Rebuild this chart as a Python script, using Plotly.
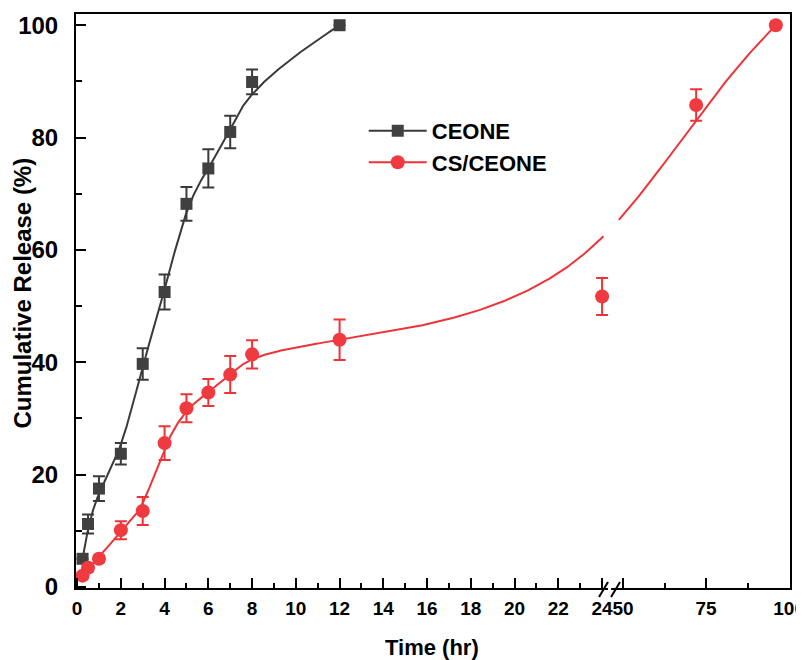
import numpy as np
import plotly.graph_objects as go

# ---------------- data ----------------
t_ceone = [0.25, 0.5, 1, 2, 3, 4, 5, 6, 7, 8, 12]
ceone = [5.0, 11.2, 17.5, 23.7, 39.7, 52.5, 68.2, 74.5, 81.0, 89.9, 100.0]
ceone_err = [0.0, 1.7, 2.2, 1.9, 2.8, 3.1, 3.0, 3.4, 2.9, 2.2, 0.0]

t_cs = [0.25, 0.5, 1, 2, 3, 4, 5, 6, 7, 8, 12, 24, 72, 96]
cs = [2.0, 3.4, 5.0, 10.1, 13.5, 25.6, 31.8, 34.6, 37.8, 41.4, 44.0, 51.7, 85.8, 100.0]
cs_err = [0.5, 0.6, 0.6, 1.6, 2.5, 3.0, 2.5, 2.4, 3.3, 2.5, 3.6, 3.3, 2.8, 0.0]

left_ticks = list(range(0, 25, 2))
left_minor = list(range(1, 24, 2))
right_ticks = [50, 75, 100]
right_minor = [62.5, 87.5]
y_ticks = [0, 20, 40, 60, 80, 100]
y_minor = [10, 30, 50, 70, 90]

# ---------------- broken axis mapping ----------------
BREAK_START = 50.0     # first value after the break
GAP = 0.96             # display units between 24 and 50
RIGHT_SCALE = 0.1518   # display units per hour after the break


def u(t):
    t = np.asarray(t, dtype=float)
    return np.where(t <= 24, t, 24 + GAP + (t - BREAK_START) * RIGHT_SCALE)


def bspline(xs, ys, num=1200):
    """Uniform clamped cubic B-spline with the data points as control points."""
    P = np.column_stack([xs, ys])
    m, k = len(P), 3
    knots = np.concatenate([np.zeros(k), np.arange(0, m - k + 1), np.full(k, m - k)]).astype(float)
    s = np.linspace(0, m - k, num)
    nb = len(knots) - 1
    N = np.zeros((num, nb))
    for i in range(nb):
        N[:, i] = (knots[i] <= s) & (s < knots[i + 1])
    N[-1, m - 1] = 1.0
    for p in range(1, k + 1):
        Nn = np.zeros((num, nb - p))
        for i in range(nb - p):
            d1 = knots[i + p] - knots[i]
            d2 = knots[i + p + 1] - knots[i + 1]
            a = (s - knots[i]) / d1 * N[:, i] if d1 > 0 else 0
            b = (knots[i + p + 1] - s) / d2 * N[:, i + 1] if d2 > 0 else 0
            Nn[:, i] = a + b
        N = Nn
    C = N @ P
    return C[:, 0], C[:, 1]


BLACK = "#3a3a3a"
RED = "#ee3338"
FONT = "Liberation Sans"

ux_c, uy_c = bspline(u(t_ceone), ceone)
ux_s, uy_s = bspline(u(t_cs), cs)
MASK_LO, MASK_HI = 24.12, 24.72
uy_s_masked = [None if MASK_LO < x < MASK_HI else y for x, y in zip(ux_s, uy_s)]

fig = go.Figure()
fig.add_trace(go.Scatter(x=ux_c, y=uy_c, mode="lines", line=dict(color=BLACK, width=2),
                         showlegend=False, hoverinfo="skip"))
fig.add_trace(go.Scatter(x=ux_s, y=uy_s_masked, mode="lines", line=dict(color=RED, width=2),
                         showlegend=False, hoverinfo="skip", connectgaps=False))
fig.add_trace(go.Scatter(x=u(t_ceone), y=ceone, mode="markers", showlegend=False,
                         marker=dict(symbol="square", size=12, color="#404040"),
                         error_y=dict(type="data", array=ceone_err, color=BLACK, thickness=2, width=6)))
fig.add_trace(go.Scatter(x=u(t_cs), y=cs, mode="markers", showlegend=False,
                         marker=dict(symbol="circle", size=14, color="#ef3b3f"),
                         error_y=dict(type="data", array=cs_err, color=RED, thickness=2, width=6)))
# legend entries
fig.add_trace(go.Scatter(x=[None], y=[None], mode="lines+markers", name="CEONE",
                         line=dict(color=BLACK, width=2),
                         marker=dict(symbol="square", size=12, color="#404040")))
fig.add_trace(go.Scatter(x=[None], y=[None], mode="lines+markers", name="CS/CEONE",
                         line=dict(color=RED, width=2),
                         marker=dict(symbol="circle", size=14, color="#ef3b3f")))

tickvals = list(u(left_ticks)) + list(u(right_ticks))
ticktext = [str(v) for v in left_ticks] + [str(v) for v in right_ticks]
minorvals = list(u(left_minor)) + list(u(right_minor))

# page body has an 8px margin: plot area spans x 76..790, y 14..588 in the window
fig.update_layout(
    width=796, height=652,
    margin=dict(l=68, r=14, t=6, b=72),
    paper_bgcolor="white", plot_bgcolor="white",
    font=dict(family=FONT, color="black", weight="bold"),
    legend=dict(x=0.403, y=0.833, xanchor="left", yanchor="top",
                font=dict(family=FONT, size=22, color="black", weight="bold"),
                bgcolor="rgba(0,0,0,0)", itemwidth=58, tracegroupgap=0),
    xaxis=dict(range=[-0.05, 32.59], showgrid=False, zeroline=False, automargin=False,
               showline=True, linecolor="black", linewidth=2, mirror=True,
               tickmode="array", tickvals=tickvals, ticktext=ticktext, tickangle=0,
               ticks="inside", ticklen=10, tickwidth=2, tickcolor="black",
               tickfont=dict(family=FONT, size=19, color="black", weight="bold"),
               ticklabelstandoff=2, ticklabeloverflow="allow",
               minor=dict(tickmode="array", tickvals=minorvals, ticks="inside",
                          ticklen=5, tickwidth=2, tickcolor="black")),
    yaxis=dict(range=[-0.2, 102], showgrid=False, zeroline=False, automargin=False,
               showline=True, linecolor="black", linewidth=2, mirror=True,
               tickmode="array", tickvals=y_ticks,
               ticks="inside", ticklen=10, tickwidth=2, tickcolor="black",
               tickfont=dict(family=FONT, size=24, color="black", weight="bold"),
               ticklabelstandoff=11,
               minor=dict(tickmode="array", tickvals=y_minor, ticks="inside",
                          ticklen=6, tickwidth=2, tickcolor="black")),
    annotations=[
        dict(text="Time (hr)", xref="paper", yref="paper", x=0.4986, y=-0.1028,
             xanchor="center", yanchor="middle", showarrow=False,
             font=dict(family=FONT, size=22, color="black", weight="bold")),
        dict(text="Cumulative Release (%)", xref="paper", yref="paper", x=-0.0742, y=0.513,
             xanchor="center", yanchor="middle", showarrow=False, textangle=-90,
             font=dict(family=FONT, size=24, color="black", weight="bold")),
    ],
)

# axis break marks
fig.add_shape(type="rect", xref="x", yref="paper", x0=24.27, x1=24.41, y0=-0.008, y1=0.008,
              fillcolor="white", line=dict(width=0), layer="above")
for x0, x1 in [(23.86, 24.27), (24.41, 24.82)]:
    fig.add_shape(type="line", xref="x", yref="paper", x0=x0, x1=x1, y0=-0.0157, y1=0.0105,
                  line=dict(color="black", width=2), layer="above")

fig.write_html("out.html")
